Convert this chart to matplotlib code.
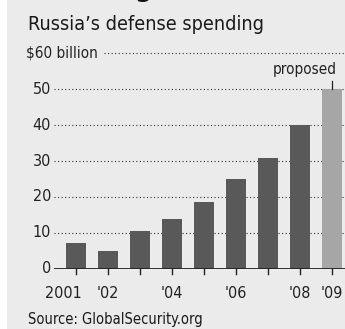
import numpy as np
import matplotlib.pyplot as plt
from matplotlib import transforms

plt.rcParams['font.family'] = ['DejaVu Sans']
plt.rcParams['font.stretch'] = 'condensed'

years = ['2001', "'02", '', "'04", '', "'06", '', "'08", "'09"]
spending = [7.2, 4.85, 10.4, 13.9, 18.6, 24.9, 30.9, 40.0, 50.0]
proposed = [False, False, False, False, False, False, False, False, True]
yticks = [0, 10, 20, 30, 40, 50, 60]

W, H = 345, 329
fig = plt.figure(figsize=(W / 100, H / 100), dpi=100)
fig.patch.set_facecolor('white')

# gray panel, white strip on the left
fig.patches.append(plt.Rectangle((7 / W, 0), 1, 1, transform=fig.transFigure,
                                 facecolor='#ebebeb', edgecolor='none', zorder=-10))

left, right = 54, 345
bottom, top = H - 268.7, H - 53.3
ax = fig.add_axes([left / W, bottom / H, (right - left) / W, (top - bottom) / H])
ax.set_facecolor('none')
for s in ax.spines.values():
    s.set_visible(False)
ax.set_xticks([])
ax.set_yticks([])

x = np.arange(len(spending))
ax.set_xlim((left - 76) / 32, (right - 76) / 32)
ax.set_ylim(0, 60)

colors = ['#a6a6a6' if p else '#595959' for p in proposed]
ax.bar(x, spending, width=0.625, color=colors, zorder=3)

# gridlines
trans = transforms.blended_transform_factory(ax.transAxes, ax.transData)
for v in yticks[1:]:
    x0 = (104 - left) / (right - left) if v == 60 else 0
    ax.plot([x0, 1], [v, v], transform=trans, color='#333333', lw=0.8,
            ls=(0, (1, 2.2)), zorder=1, clip_on=False)
ax.axhline(0, color='#222222', lw=1.3, zorder=4)

# tick labels
ftrans = transforms.blended_transform_factory(fig.transFigure, ax.transData)
for v in yticks:
    if v == 60:
        fig.text(26 / W, v, '$%d billion' % v, fontsize=11, color='#222222',
                 ha='left', va='center', transform=ftrans)
    else:
        ax.text(-3 / (right - left), v, str(v), transform=trans, fontsize=11.5,
                color='#222222', ha='right', va='center')

xtrans = transforms.blended_transform_factory(ax.transData, ax.transAxes)
for i, lab in enumerate(years):
    ax.plot([i, i], [0, -5 / (top - bottom)], transform=xtrans, color='#222222',
            lw=1.0, clip_on=False)
    if lab:
        if i == 0:
            ax.text(i + 0.19, -29 / (top - bottom), lab, transform=xtrans,
                    fontsize=11.5, color='#222222', ha='right', va='baseline')
        else:
            ax.text(i, -29 / (top - bottom), lab, transform=xtrans, fontsize=11.5,
                    color='#222222', ha='center', va='baseline')

# proposed annotation
i9 = len(spending) - 1
ax.plot([i9, i9], [spending[i9], spending[i9] + 8 / 3.585], color='#222222', lw=0.9,
        clip_on=False, zorder=4)
ax.text(i9 + 0.15, spending[i9] + 4.2, 'proposed', fontsize=11, color='#222222',
        ha='right', va='baseline')

fig.text(28 / W, 1 - 30.5 / H, 'Russia\u2019s defense spending', fontsize=14.2,
         color='#1a1a1a', ha='left', va='baseline')
fig.text(28 / W, 1 - 324 / H, 'Source: GlobalSecurity.org', fontsize=10.5,
         color='#1a1a1a', ha='left', va='baseline')
# bottom of the cut-off headline above the chart
fig.text(135 / W, 1 + 4.5 / H, 'g', fontsize=20, fontweight='bold', color='#111111',
         ha='left', va='baseline')

fig.savefig('out.png', dpi=100, facecolor=fig.get_facecolor())
